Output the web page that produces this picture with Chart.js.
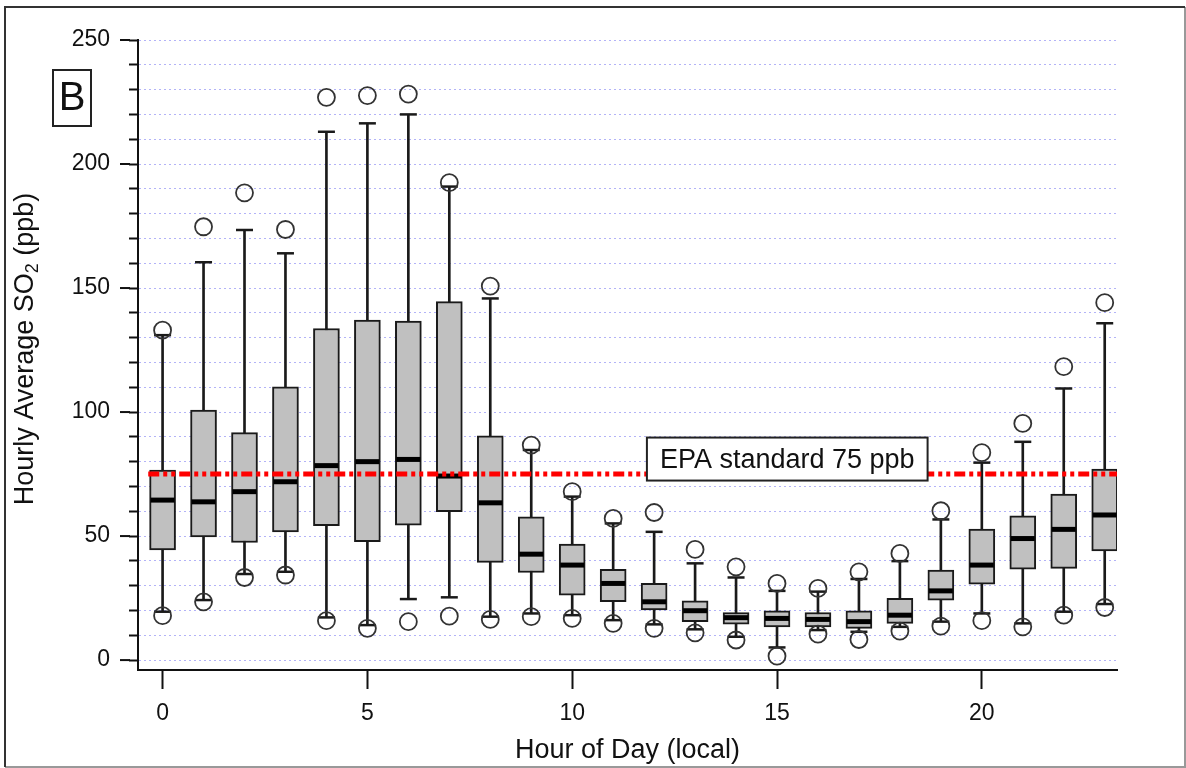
<!DOCTYPE html>
<html>
<head>
<meta charset="utf-8">
<script src="https://cdn.jsdelivr.net/npm/chart.js@4"></script>
<style>
  body { margin: 0; background: #fff; }
  canvas { display: block; }
</style>
</head>
<body>
<canvas id="myChart" width="1186" height="768"></canvas>
<script>
// hourly SO2 box statistics (ppb)
const hours = [0,1,2,3,4,5,6,7,8,9,10,11,12,13,14,15,16,17,18,19,20,21,22,23];
const outHigh = [133,174.7,188.4,173.6,226.9,227.6,228.2,192.5,150.8,86.7,67.9,57.1,59.5,44.6,37.6,30.9,28.9,35.6,43,60.2,83.6,95.4,118.3,144.1];
const whiskHigh = [131,160.4,173.4,164,213,216.4,220,190.9,145.8,84.7,65.9,55.1,51.7,39,33.3,27.9,27.6,32.7,39.9,56.7,79.6,88,109.5,135.8];
const q3 = [76.6,100.8,91.7,110.2,133.7,137.1,136.7,144.5,90.4,57.8,46.8,36.6,30.9,23.9,19.2,19.9,19.2,19.9,24.9,36.3,52.8,58.2,66.9,77];
const median = [64.5,63.8,67.9,71.9,78.4,80,80.9,74.2,63.4,42.7,38.3,30.9,23.5,19.9,17.1,16.8,16.4,15.5,18.1,27.9,38.3,49,52.7,58.5];
const q1 = [44.4,49.7,47.4,51.7,54.2,47.7,54.4,59.8,39.4,35.3,26.2,23.5,20.2,15.5,14.5,13.4,13.4,12.8,14.8,24.2,30.6,36.7,37,44];
const whiskLow = [19.5,24.2,34.7,35.6,17.2,14.1,24.6,25.3,17.5,18.8,18.1,16.1,14.4,12.4,9.4,5.1,12.1,11.4,13.4,15.5,18.8,14.8,19.5,22.6];
const outLow = [17.9,23.5,33.3,34.3,15.9,12.8,15.5,17.7,16.4,17.5,16.8,14.8,12.8,11,8.1,1.6,10.5,8.3,11.7,13.7,15.9,13.4,18.1,21.2];

const epaLevel = 75;
const epaLabel = "EPA standard 75 ppb";
const epaSpan = [-0.35, 23.3];
const xTicks = [0, 5, 10, 15, 20];

const FONT = "'Liberation Sans', Arial, sans-serif";

const pts = (arr) => hours.map((h, i) => ({ x: h, y: arr[i] }));
const ranges = (a, b) => hours.map((h, i) => ({ x: h, y: [a[i], b[i]] }));

const framePlugin = {
    id: "frame",
    beforeDraw(chart) {
        const ctx = chart.ctx;
        ctx.save();
        ctx.fillStyle = "#fff";
        ctx.fillRect(0, 0, chart.width, chart.height);
        ctx.restore();
    },
    afterDatasetsDraw(chart) {
        // EPA label box sitting on the standard line
        const ctx = chart.ctx;
        const xs = chart.scales.x, ys = chart.scales.y;
        ctx.save();
        ctx.font = "27px " + FONT;
        const w = ctx.measureText(epaLabel).width + 26;
        const h = 43;
        const cx = xs.getPixelForValue(15.25);
        const cy = ys.getPixelForValue(epaLevel) - 15;
        ctx.fillStyle = "#fff";
        ctx.fillRect(cx - w / 2, cy - h / 2, w, h);
        ctx.strokeStyle = "#222";
        ctx.lineWidth = 2;
        ctx.strokeRect(cx - w / 2, cy - h / 2, w, h);
        ctx.fillStyle = "#111";
        ctx.textAlign = "center";
        ctx.textBaseline = "middle";
        ctx.fillText(epaLabel, cx, cy + 1);
        ctx.restore();
    },
    afterDraw(chart) {
        const ctx = chart.ctx;
        const ys = chart.scales.y;
        const left = chart.chartArea.left;
        ctx.save();
        // longer major ticks on y
        ctx.strokeStyle = "#111";
        ctx.lineWidth = 2;
        for (let v = 0; v <= 250; v += 50) {
            const y = ys.getPixelForValue(v);
            ctx.beginPath();
            ctx.moveTo(left - 18, y);
            ctx.lineTo(left - 8, y);
            ctx.stroke();
        }
        // panel letter
        ctx.lineWidth = 2;
        ctx.strokeStyle = "#222";
        ctx.strokeRect(53, 70, 38, 56);
        ctx.fillStyle = "#111";
        ctx.font = "40px " + FONT;
        ctx.textAlign = "center";
        ctx.textBaseline = "middle";
        ctx.fillText("B", 72, 99);
        // y title with subscript
        const main = "Hourly Average SO";
        const tail = " (ppb)";
        ctx.font = "27px " + FONT;
        const w1 = ctx.measureText(main).width;
        const w3 = ctx.measureText(tail).width;
        ctx.font = "18px " + FONT;
        const w2 = ctx.measureText("2").width;
        const total = w1 + w2 + w3;
        ctx.translate(26, (chart.chartArea.top + chart.chartArea.bottom) / 2 - 6);
        ctx.rotate(-Math.PI / 2);
        ctx.textAlign = "left";
        ctx.textBaseline = "middle";
        let x = -total / 2;
        ctx.font = "27px " + FONT;
        ctx.fillText(main, x, 0);
        x += w1;
        ctx.font = "18px " + FONT;
        ctx.fillText("2", x, 7);
        x += w2;
        ctx.font = "27px " + FONT;
        ctx.fillText(tail, x, 0);
        ctx.restore();
        // outer frame
        ctx.save();
        ctx.lineWidth = 2;
        ctx.strokeStyle = "#999";
        ctx.beginPath();
        ctx.moveTo(1185, 7); ctx.lineTo(1185, 767); ctx.lineTo(5, 767);
        ctx.stroke();
        ctx.strokeStyle = "#333";
        ctx.beginPath();
        ctx.moveTo(5, 767); ctx.lineTo(5, 7); ctx.lineTo(1185, 7);
        ctx.stroke();
        ctx.restore();
    }
};

const info = {
    datasets: [
        {
            type: "line",
            data: epaSpan.map((x) => ({ x: x, y: epaLevel })),
            borderColor: "#ff0000",
            borderWidth: 5,
            borderDash: [11, 4, 4, 4, 4, 4],
            pointRadius: 0,
            order: 0
        },
        {
            type: "scatter",
            data: pts(outHigh).concat(pts(outLow)),
            pointStyle: "circle",
            radius: 8.5,
            borderWidth: 1.8,
            borderColor: "#333",
            backgroundColor: "rgba(0,0,0,0)",
            order: 1
        },
        {
            type: "scatter",
            data: pts(median),
            pointStyle: "line",
            radius: 12,
            borderWidth: 5,
            borderColor: "#000",
            order: 2
        },
        {
            type: "scatter",
            data: pts(whiskHigh).concat(pts(whiskLow)),
            pointStyle: "line",
            radius: 8.5,
            borderWidth: 2.5,
            borderColor: "#1a1a1a",
            order: 3
        },
        {
            type: "bar",
            data: ranges(q1, q3),
            backgroundColor: "#c0c0c0",
            borderColor: "#1a1a1a",
            borderWidth: 2,
            borderSkipped: false,
            barThickness: 26,
            grouped: false,
            order: 4
        },
        {
            type: "bar",
            data: ranges(whiskLow, whiskHigh),
            backgroundColor: "#1a1a1a",
            borderWidth: 0,
            barThickness: 2,
            grouped: false,
            order: 5
        }
    ]
};

const options = {
    responsive: false,
    animation: false,
    events: [],
    layout: { padding: { left: 0, top: 40, right: 69, bottom: 0 } },
    scales: {
        x: {
            type: "linear",
            min: -0.6,
            max: 23.3,
            offset: false,
            afterFit: (s) => { s.height = 98; },
            afterBuildTicks: (s) => { s.ticks = xTicks.map((v) => ({ value: v })); },
            ticks: {
                includeBounds: false,
                color: "#111",
                font: { family: FONT, size: 23 },
                padding: 11,
                maxRotation: 0
            },
            grid: {
                offset: false,
                drawOnChartArea: false,
                tickLength: 19,
                tickColor: "#111",
                tickWidth: 2
            },
            border: { color: "#111", width: 2 },
            title: {
                display: true,
                text: "Hour of Day (local)",
                color: "#111",
                font: { family: FONT, size: 27 },
                padding: { bottom: 1 }
            }
        },
        y: {
            type: "linear",
            min: -4,
            max: 250,
            afterFit: (s) => { s.width = 138; },
            ticks: {
                includeBounds: false,
                stepSize: 10,
                autoSkip: false,
                color: "#111",
                font: { family: FONT, size: 23 },
                padding: 19,
                callback: (v) => (v % 50 === 0 ? v : "")
            },
            grid: {
                color: "#b3b3f7",
                lineWidth: 1,
                tickLength: 9,
                tickColor: "#111",
                tickWidth: 2
            },
            border: { color: "#111", width: 2, dash: [2, 3] }
        }
    },
    plugins: {
        legend: { display: false },
        tooltip: { enabled: false }
    }
};

const config = {
    type: "bar",
    data: info,
    options,
    plugins: [framePlugin]
};

const myChart = new Chart(document.getElementById("myChart"), config);
</script>
</body>
</html>
